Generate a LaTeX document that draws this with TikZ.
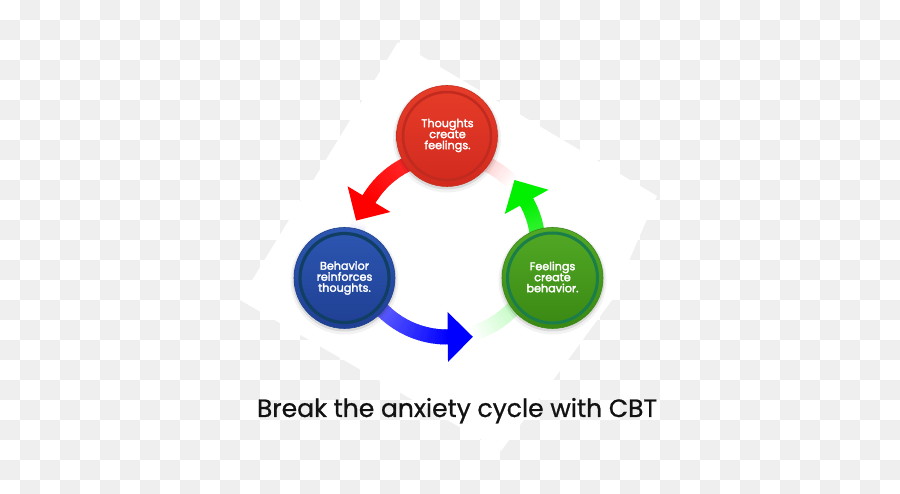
\documentclass[tikz,border=0pt]{standalone}
\usepackage{fontspec}
\setmainfont{Poppins}
\newfontfamily\lblfont{Poppins}[FakeBold=2.6]
\newfontfamily\ttlfont{Poppins}[FakeBold=0.8]
\usepackage{graphicx}
\definecolor{chk}{HTML}{EFEFEF}
\definecolor{aR}{HTML}{FF0000}
\definecolor{aB}{HTML}{0000FF}
\definecolor{aG}{HTML}{00F000}
\definecolor{redTop}{HTML}{E63C29}
\definecolor{redBot}{HTML}{D12A1E}
\definecolor{redRing}{HTML}{C02A1F}
\definecolor{redRim}{HTML}{C8301F}
\definecolor{bluTop}{HTML}{2D57B2}
\definecolor{bluBot}{HTML}{1F3F93}
\definecolor{bluRing}{HTML}{113F63}
\definecolor{bluRim}{HTML}{1E4390}
\definecolor{grnTop}{HTML}{52A925}
\definecolor{grnBot}{HTML}{3A8813}
\definecolor{grnRing}{HTML}{1B7E4A}
\definecolor{grnRim}{HTML}{3C8A18}
\newcommand\ringcx{447}
\newcommand\ringcy{246}
% gradient arc: start angle, end angle, colour, start pct, end pct
\newcommand\gradarc[5]{%
  \foreach \a in {#1,...,#2}{%
    \pgfmathtruncatemacro\p{#4+(#5-#4)*(\a-#1)/(#2-#1)}%
    \draw[line width=15pt, draw=#3!\p!white]
      ({\ringcx+91*cos(\a)},{\ringcy-91*sin(\a)}) --
      ({\ringcx+91*cos(\a+1.4)},{\ringcy-91*sin(\a+1.4)});
  }}
\newcommand\ahead[2]{%
  \fill[#2] ({\ringcx+116*cos(#1)},{\ringcy-116*sin(#1)}) --
    ({\ringcx+91*cos(#1)-25*sin(#1)},{\ringcy-91*sin(#1)-25*cos(#1)}) --
    ({\ringcx+66*cos(#1)},{\ringcy-66*sin(#1)}) -- cycle;}
\tikzset{
  bubble/.style={circle, minimum size=101pt, inner sep=0pt, align=center,
    text=white, font=\lblfont\fontsize{11.2}{11}\selectfont, line width=0.6pt},
  ringline/.style={line width=#1},
  shade1/.style={fill=black, opacity=0.10},
  shade2/.style={fill=black, opacity=0.05}
}
\begin{document}
\begin{tikzpicture}[x=1pt,y=-1pt]
\useasboundingbox (0,0) rectangle (900,494);
\fill[white] (0,0) rectangle (900,494);
\begin{scope}
\clip (0,0) rectangle (900,494);
\foreach \j in {0,...,24}{
  \pgfmathtruncatemacro\s{mod(\j+1,2)}
  \foreach \k in {0,...,22}{
    \pgfmathtruncatemacro\xx{20*(2*\k+\s)}
    \pgfmathtruncatemacro\yy{20*\j}
    \fill[chk] (\xx,\yy) rectangle ++(20,20);
  }
}
\end{scope}
% white backing shape
\fill[white] (398,42) -- (657,196) -- (612,300) -- (501,451) -- (240,300) -- cycle;
% faded bands
\gradarc{164}{174}{aB}{0}{14}
\gradarc{285}{320}{aG}{0}{26}
\gradarc{43}{70}{aR}{0}{24}
% solid arrows
\gradarc{110}{148}{aR}{82}{100}
\gradarc{222}{270}{aB}{62}{100}
\gradarc{5}{28}{aG}{78}{100}
\ahead{149}{aR}
\ahead{270.5}{aB}
\ahead{29}{aG}
% circle shadows
\foreach \cx/\cy in {447/136, 344.5/278, 552.5/278}{
  \fill[shade2] (\cx,\cy+2.5) circle[radius=54pt];
  \fill[shade1] (\cx,\cy+1.5) circle[radius=52pt];
}
% circles
\node[bubble, top color=redTop, bottom color=redBot, draw=redRim] (thoughts) at (447,136) {};
\draw[redRing, ringline=2.5pt] (thoughts.center) circle[radius=44pt];
\node[bubble] at (447.5,135.5) {Thoughts\\create\\feelings.};
\node[bubble, top color=bluTop, bottom color=bluBot, draw=bluRim] (behavior) at (344.5,278) {};
\draw[bluRing, ringline=3.2pt] (behavior.center) circle[radius=44.5pt];
\node[bubble] at (344.5,278) {Behavior\\reinforces\\thoughts.};
\node[bubble, top color=grnTop, bottom color=grnBot, draw=grnRim] (feelings) at (552.5,278) {};
\draw[grnRing, ringline=3pt] (feelings.center) circle[radius=45pt];
\node[bubble] at (552.5,277) {Feelings\\create\\behavior.};
% title
\node[anchor=base, inner sep=0pt, text=black!93] (title) at (457,417)
  {\resizebox{400pt}{!}{\ttlfont Break the anxiety cycle with CBT}};
\end{tikzpicture}
\end{document}
